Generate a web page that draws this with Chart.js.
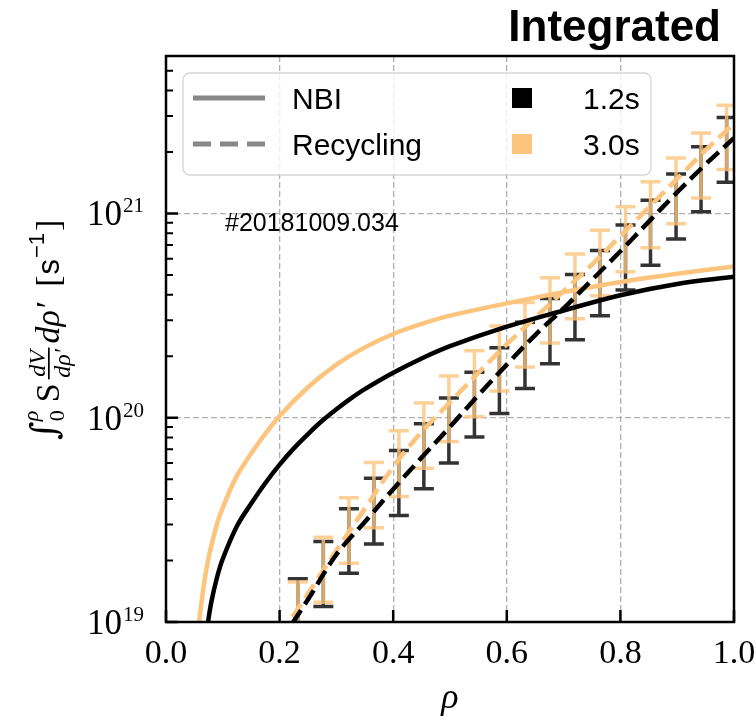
<!DOCTYPE html>
<html>
<head>
<meta charset="UTF-8">
<title>Integrated source</title>
<script src="https://cdn.jsdelivr.net/npm/chart.js"></script>
<style>
  html, body { margin: 0; padding: 0; background: #fff; }
  #wrap { width: 756px; height: 722px; }
</style>
</head>
<body>
<div id="wrap"><canvas id="chart" width="756" height="722"></canvas></div>
<script>
// NBI deposition, integrated (solid)
const nbiRho12 = [0.068, 0.074, 0.08, 0.09, 0.1, 0.125, 0.15, 0.175, 0.2, 0.225, 0.25, 0.275, 0.3, 0.325, 0.35, 0.4, 0.45, 0.5, 0.6, 0.7, 0.8, 0.9, 1.0];
const nbiVal12 = [7.59e18, 1.00e19, 1.26e19, 1.66e19, 2.04e19, 2.95e19, 3.80e19, 4.79e19, 5.89e19, 7.08e19, 8.32e19, 9.66e19, 1.10e20, 1.24e20, 1.38e20, 1.66e20, 1.95e20, 2.24e20, 2.79e20, 3.35e20, 3.98e20, 4.52e20, 4.90e20];
const nbiRho30 = [0.052, 0.058, 0.065, 0.07, 0.077, 0.085, 0.092, 0.1, 0.115, 0.13, 0.165, 0.2, 0.25, 0.3, 0.35, 0.4, 0.45, 0.5, 0.6, 0.7, 0.8, 0.9, 1.0];
const nbiVal30 = [7.59e18, 1.00e19, 1.41e19, 1.74e19, 2.19e19, 2.69e19, 3.16e19, 3.63e19, 4.57e19, 5.50e19, 7.67e19, 1.02e20, 1.41e20, 1.82e20, 2.21e20, 2.57e20, 2.88e20, 3.16e20, 3.63e20, 4.12e20, 4.62e20, 5.07e20, 5.50e20];

// recycling source, integrated (dashed)
const recRho = [0.2, 0.25, 0.3, 0.35, 0.4, 0.45, 0.5, 0.55, 0.6, 0.65, 0.7, 0.75, 0.8, 0.85, 0.9, 0.95, 1.0];
const recVal12 = [7.94e18, 1.29e19, 2.14e19, 3.09e19, 4.47e19, 6.38e19, 9.02e19, 1.29e20, 1.82e20, 2.54e20, 3.43e20, 4.73e20, 6.53e20, 9.12e20, 1.27e21, 1.74e21, 2.34e21];
const recVal30 = [8.51e18, 1.38e19, 2.24e19, 3.59e19, 5.75e19, 8.51e19, 1.19e20, 1.66e20, 2.29e20, 3.09e20, 4.17e20, 5.62e20, 7.76e20, 1.07e21, 1.48e21, 2.04e21, 2.75e21];

// error bars of the recycling estimate
const errRho = [0.232, 0.277, 0.322, 0.366, 0.41, 0.454, 0.498, 0.543, 0.587, 0.632, 0.676, 0.72, 0.764, 0.809, 0.853, 0.898, 0.942, 0.987];
const errLow12 = [7.76e18, 1.19e19, 1.73e19, 2.41e19, 3.32e19, 4.49e19, 6.00e19, 8.04e19, 1.05e20, 1.39e20, 1.84e20, 2.41e20, 3.16e20, 4.22e20, 5.58e20, 7.50e20, 1.02e21, 1.42e21];
const errHigh12 = [1.63e19, 2.48e19, 3.58e19, 5.06e19, 6.92e19, 9.35e19, 1.25e20, 1.67e20, 2.20e20, 2.93e20, 3.83e20, 5.02e20, 6.59e20, 8.77e20, 1.16e21, 1.56e21, 2.12e21, 2.95e21];
const errLow30 = [7.52e18, 1.25e19, 1.94e19, 2.89e19, 4.11e19, 5.66e19, 7.66e19, 1.01e20, 1.35e20, 1.77e20, 2.32e20, 3.05e20, 3.96e20, 5.18e20, 6.79e20, 8.91e20, 1.19e21, 1.64e21];
const errHigh30 = [1.57e19, 2.60e19, 4.06e19, 6.04e19, 8.63e19, 1.18e20, 1.60e20, 2.13e20, 2.81e20, 3.67e20, 4.84e20, 6.34e20, 8.28e20, 1.08e21, 1.43e21, 1.87e21, 2.48e21, 3.39e21];

const xTicks = [0.0, 0.2, 0.4, 0.6, 0.8, 1.0];
const yDecades = [1e19, 1e20, 1e21];
const yExponents = ['19', '20', '21'];
const yMinorTicks = [2, 3, 4, 5, 6, 7, 8, 9].flatMap(m => [m * 1e19, m * 1e20, m * 1e21]).filter(v => v < 5.9e21);

const legendLines = ['NBI', 'Recycling'];
const legendTimes = ['1.2s', '3.0s'];
const shotLabel = '#20181009.034';

const BLACK = '#000000';
const ORANGE = '#fdc47e';
const GRID = '#b0b0b0';

const pts = (xs, ys) => xs.map((x, i) => ({ x: x, y: ys[i] }));
const isDecade = v => yDecades.some(d => Math.abs(v / d - 1) < 1e-6);

function drawErrorBars(chart, xs, lows, highs, color) {
  const { ctx, chartArea: a, scales: { x, y } } = chart;
  ctx.save();
  ctx.beginPath();
  ctx.rect(a.left, a.top, a.width, a.height);
  ctx.clip();
  ctx.strokeStyle = color;
  ctx.lineWidth = 3.5;
  xs.forEach((r, i) => {
    const px = x.getPixelForValue(r);
    const lo = y.getPixelForValue(lows[i]);
    const hi = y.getPixelForValue(highs[i]);
    ctx.beginPath();
    ctx.moveTo(px, lo); ctx.lineTo(px, hi);
    ctx.moveTo(px - 10, lo); ctx.lineTo(px + 10, lo);
    ctx.moveTo(px - 10, hi); ctx.lineTo(px + 10, hi);
    ctx.stroke();
  });
  ctx.restore();
}

// y label: int_0^rho S dV/drho' drho' [s^-1], written bottom to top
function drawYTitle(ctx) {
  ctx.save();
  ctx.translate(59, 440);
  ctx.rotate(-Math.PI / 2);
  ctx.fillStyle = '#000';
  ctx.textBaseline = 'alphabetic';
  ctx.textAlign = 'left';
  let x = 0;
  const put = (t, font, dy) => {
    ctx.font = font;
    ctx.fillText(t, x, dy);
    return ctx.measureText(t).width;
  };
  x += put('\u222B', '36px "DejaVu Serif"', -3);
  const wSup = put('\u03C1', 'italic 22px "Liberation Serif"', -21);
  const wSub = put('0', '22px "Liberation Serif"', 5);
  x += Math.max(wSup, wSub) + 8;
  x += put('S', '34px "Liberation Serif"', 0) + 4;
  // fraction
  ctx.font = 'italic 24px "Liberation Serif"';
  const wNum = ctx.measureText('dV').width;
  const wDen = ctx.measureText('d\u03C1\u2032').width;
  const wFr = Math.max(wNum, wDen) + 3;
  ctx.fillText('dV', x + (wFr - wNum) / 2, -14);
  ctx.fillText('d\u03C1\u2032', x + (wFr - wDen) / 2, 11);
  ctx.fillRect(x, -11, wFr, 1.7);
  x += wFr + 4;
  x += put('d\u03C1\u2032', 'italic 34px "Liberation Serif"', 0) + 16;
  x += put('[', '34px "Liberation Serif"', 0) + 1;
  x += put('s', '31px "Liberation Sans"', 0) + 1;
  x += put('\u22121', '22px "Liberation Sans"', -15) + 2;
  put(']', '34px "Liberation Serif"', 0);
  ctx.restore();
}

const decorations = {
  id: 'decorations',
  beforeDatasetsDraw(chart) {
    drawErrorBars(chart, errRho, errLow12, errHigh12, 'rgba(0,0,0,0.8)');
    drawErrorBars(chart, errRho, errLow30, errHigh30, 'rgba(253,196,126,0.8)');
  },
  afterDraw(chart) {
    const { ctx, chartArea: a, scales: { x, y } } = chart;
    ctx.save();
    // frame
    ctx.strokeStyle = '#000';
    ctx.lineWidth = 2.5;
    ctx.strokeRect(a.left, a.top, a.width, a.height);
    // inward ticks
    ctx.beginPath();
    xTicks.forEach(v => {
      const px = x.getPixelForValue(v);
      ctx.moveTo(px, a.bottom); ctx.lineTo(px, a.bottom - 12);
    });
    yDecades.forEach(v => {
      const py = y.getPixelForValue(v);
      ctx.moveTo(a.left, py); ctx.lineTo(a.left + 12, py);
    });
    ctx.stroke();
    ctx.lineWidth = 2;
    ctx.beginPath();
    yMinorTicks.forEach(v => {
      const py = y.getPixelForValue(v);
      ctx.moveTo(a.left, py); ctx.lineTo(a.left + 7, py);
    });
    ctx.stroke();

    // y tick labels 10^n
    ctx.fillStyle = '#000';
    ctx.textBaseline = 'alphabetic';
    yDecades.forEach((v, i) => {
      const py = y.getPixelForValue(v);
      ctx.font = '21px "Liberation Serif"';
      ctx.textAlign = 'right';
      ctx.fillText(yExponents[i], 144, py - 1);
      const wExp = ctx.measureText(yExponents[i]).width;
      ctx.font = '35px "Liberation Serif"';
      ctx.fillText('10', 144 - wExp - 1, py + 12);
    });

    drawYTitle(ctx);

    // shot number
    ctx.font = '25px "Liberation Sans"';
    ctx.textAlign = 'left';
    ctx.fillText(shotLabel, 225, 231);

    // legend
    ctx.fillStyle = 'rgba(255,255,255,0.8)';
    ctx.strokeStyle = 'rgba(204,204,204,0.8)';
    ctx.lineWidth = 1.3;
    ctx.beginPath();
    ctx.roundRect(183, 73, 468, 102, 7);
    ctx.fill();
    ctx.stroke();
    ctx.strokeStyle = '#888888';
    ctx.lineWidth = 5;
    ctx.beginPath();
    ctx.moveTo(193, 98); ctx.lineTo(265, 98);
    ctx.stroke();
    ctx.setLineDash([18, 9]);
    ctx.beginPath();
    ctx.moveTo(193, 144); ctx.lineTo(265, 144);
    ctx.stroke();
    ctx.setLineDash([]);
    ctx.fillStyle = BLACK;
    ctx.fillRect(512, 88, 20, 20);
    ctx.fillStyle = ORANGE;
    ctx.fillRect(512, 134, 20, 20);
    ctx.fillStyle = '#000';
    ctx.font = '30px "Liberation Sans"';
    ctx.fillText(legendLines[0], 292, 109);
    ctx.fillText(legendLines[1], 292, 155);
    ctx.fillText(legendTimes[0], 583, 109);
    ctx.fillText(legendTimes[1], 583, 155);

    // panel title
    ctx.font = 'bold 44px "Liberation Sans"';
    ctx.textAlign = 'right';
    ctx.fillText('Integrated', 721, 41);
    ctx.restore();
  }
};

const lineStyle = (color, dashed) => ({
  borderColor: color,
  backgroundColor: color,
  borderWidth: 4.5,
  borderDash: dashed ? [16, 7] : [],
  borderCapStyle: 'butt',
  borderJoinStyle: 'round',
  pointRadius: 0,
  pointHoverRadius: 0,
  fill: false,
  tension: 0.35
});

new Chart(document.getElementById('chart'), {
  type: 'line',
  data: {
    datasets: [
      Object.assign({ label: 'NBI 1.2s', data: pts(nbiRho12, nbiVal12) }, lineStyle(BLACK, false)),
      Object.assign({ label: 'Recycling 1.2s', data: pts(recRho, recVal12) }, lineStyle(BLACK, true)),
      Object.assign({ label: 'NBI 3.0s', data: pts(nbiRho30, nbiVal30) }, lineStyle(ORANGE, false)),
      Object.assign({ label: 'Recycling 3.0s', data: pts(recRho, recVal30) }, lineStyle(ORANGE, true))
    ]
  },
  options: {
    responsive: false,
    devicePixelRatio: 1,
    animation: false,
    layout: { padding: { top: 56, right: 22, left: 0, bottom: 0 } },
    plugins: { legend: { display: false }, title: { display: false }, tooltip: { enabled: false } },
    scales: {
      x: {
        type: 'linear',
        min: 0,
        max: 1,
        afterBuildTicks: s => { s.ticks = xTicks.map(v => ({ value: v })); },
        afterFit: s => { s.height = 100; s.paddingLeft = 0; s.paddingRight = 0; },
        border: { display: false, dash: [6, 3] },
        grid: {
          drawTicks: false,
          lineWidth: 1.3,
          color: c => (c.tick && c.tick.value > 0.01 && c.tick.value < 0.99) ? GRID : 'transparent'
        },
        ticks: {
          autoSkip: false,
          maxRotation: 0,
          padding: 12,
          color: '#000',
          font: { family: 'Liberation Serif', size: 34 },
          callback: v => v.toFixed(1)
        },
        title: {
          display: true,
          text: '\u03C1',
          color: '#000',
          font: { family: 'Liberation Serif', size: 36, style: 'italic' },
          padding: { top: 0, bottom: 2 }
        }
      },
      y: {
        type: 'logarithmic',
        min: 1e19,
        max: 5.9e21,
        afterBuildTicks: s => { s.ticks = yDecades.concat(yMinorTicks).map(v => ({ value: v })); },
        afterFit: s => { s.width = 166; s.paddingTop = 0; s.paddingBottom = 0; },
        border: { display: false, dash: [6, 3] },
        grid: {
          drawTicks: false,
          lineWidth: 1.3,
          color: c => (c.tick && isDecade(c.tick.value) && c.tick.value > 1.5e19) ? GRID : 'transparent'
        },
        ticks: { display: false }
      }
    }
  },
  plugins: [decorations]
});
</script>
</body>
</html>
